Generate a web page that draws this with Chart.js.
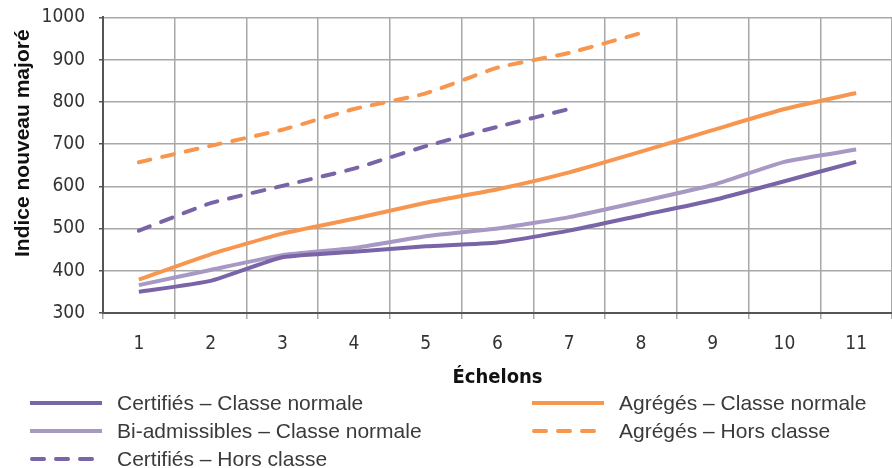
<!DOCTYPE html>
<html>
<head>
<meta charset="utf-8">
<script src="https://cdn.jsdelivr.net/npm/chart.js@4.4.0/dist/chart.umd.min.js"></script>
<style>
  html, body { margin: 0; padding: 0; background: #fff; }
  #wrap { position: relative; width: 892px; height: 468px; overflow: hidden; }
  #zone { position: absolute; left: 0; top: -8px; width: 892px; height: 398px; }
  #titreY { position: absolute; left: 9px; top: 28px; height: 230px; width: 26px;
    writing-mode: vertical-rl; transform: rotate(180deg); text-align: center; line-height: 26px;
    font-family: "Liberation Sans", Arial, sans-serif; font-size: 21px; font-weight: bold; color: #111; white-space: nowrap; }
  #legende { position: absolute; left: 0; top: 389px; width: 892px; height: 79px;
    font-family: "Liberation Sans", Arial, sans-serif; font-size: 21px; color: #3a3a3a; }
  .item { position: absolute; height: 28px; display: flex; align-items: center; white-space: nowrap; }
  .item svg { margin-right: 15px; }
</style>
</head>
<body>
<div id="wrap">
  <div id="zone"><canvas id="GraficoIndices"></canvas></div>
  <div id="titreY">Indice nouveau majoré</div>
  <div id="legende"></div>
</div>
<script>
const echelons = ['1', '2', '3', '4', '5', '6', '7', '8', '9', '10', '11'];

const certifiesNormale = [350, 376, 432, 445, 458, 467, 495, 531, 567, 612, 658];
const biadmissiblesNormale = [366, 402, 437, 454, 482, 500, 527, 564, 603, 658, 687];
const agregesNormale = [379, 439, 488, 523, 561, 593, 633, 682, 733, 783, 821];
const agregesHors = [657, 696, 734, 783, 820, 881, 916, 963];
const certifiesHors = [495, 560, 601, 642, 695, 741, 783];

const violetFonce = "#7a64a8";
const violetClair = "#a898c4";
const orange = "#f7964f";
const tirets = [12, 12];

const series = [
  { label: "Certifiés – Classe normale", data: certifiesNormale, color: violetFonce, dash: [], col: 0, row: 0 },
  { label: "Bi-admissibles – Classe normale", data: biadmissiblesNormale, color: violetClair, dash: [], col: 0, row: 1 },
  { label: "Certifiés – Hors classe", data: certifiesHors, color: violetFonce, dash: tirets, col: 0, row: 2 },
  { label: "Agrégés – Classe normale", data: agregesNormale, color: orange, dash: [], col: 1, row: 0 },
  { label: "Agrégés – Hors classe", data: agregesHors, color: orange, dash: tirets, col: 1, row: 1 },
];

const policeEtroite = '"DejaVu Sans Condensed", "Liberation Sans Narrow", sans-serif';

new Chart(document.getElementById("GraficoIndices"), {
  type: "line",
  data: {
    labels: echelons,
    datasets: series.map(s => ({
      label: s.label,
      data: s.data,
      borderColor: s.color,
      backgroundColor: s.color,
      borderWidth: 4,
      borderDash: s.dash,
      borderCapStyle: s.dash.length ? "round" : "butt",
      pointRadius: 0,
      tension: 0.15,
      fill: false,
    })),
  },
  options: {
    responsive: true,
    maintainAspectRatio: false,
    animation: false,
    layout: { padding: { top: 4, right: 0, left: 0, bottom: 0 } },
    scales: {
      x: {
        offset: true,
        grid: { offset: true, color: "#a8a8a8", lineWidth: 1.5, tickLength: 6, tickColor: "#a8a8a8" },
        border: { color: "#555", width: 2 },
        ticks: { color: "#333", font: { family: policeEtroite, size: 19 }, padding: 14, maxRotation: 0 },
        title: { display: true, text: "Échelons", color: "#111", font: { family: policeEtroite, size: 20, weight: "bold" }, padding: { top: 0, bottom: 0 } },
        afterFit: (scale) => { scale.height = 77; },
      },
      y: {
        min: 300,
        max: 1000,
        ticks: {
          stepSize: 100, color: "#333", font: { family: policeEtroite, size: 19 }, padding: 14,
          callback: (v) => String(v),
        },
        grid: { color: "#a8a8a8", lineWidth: 1.5, tickLength: 4, tickColor: "#555" },
        border: { color: "#555", width: 2 },
        afterFit: (scale) => { scale.width = 103; },
      },
    },
    plugins: {
      legend: { display: false },
      tooltip: { enabled: false },
    },
  },
});

// legende en deux colonnes, comme sur la figure
const legende = document.getElementById("legende");
series.forEach(s => {
  const div = document.createElement("div");
  div.className = "item";
  div.style.left = (s.col === 0 ? 30 : 532) + "px";
  div.style.top = (s.row * 28) + "px";
  const dash = s.dash.length ? `stroke-dasharray="12 12" stroke-linecap="round"` : "";
  div.innerHTML = `<svg width="72" height="8"><line x1="${s.dash.length ? 2 : 0}" y1="4" x2="72" y2="4" stroke="${s.color}" stroke-width="4" ${dash}/></svg><span>${s.label}</span>`;
  legende.appendChild(div);
});
</script>
</body>
</html>
